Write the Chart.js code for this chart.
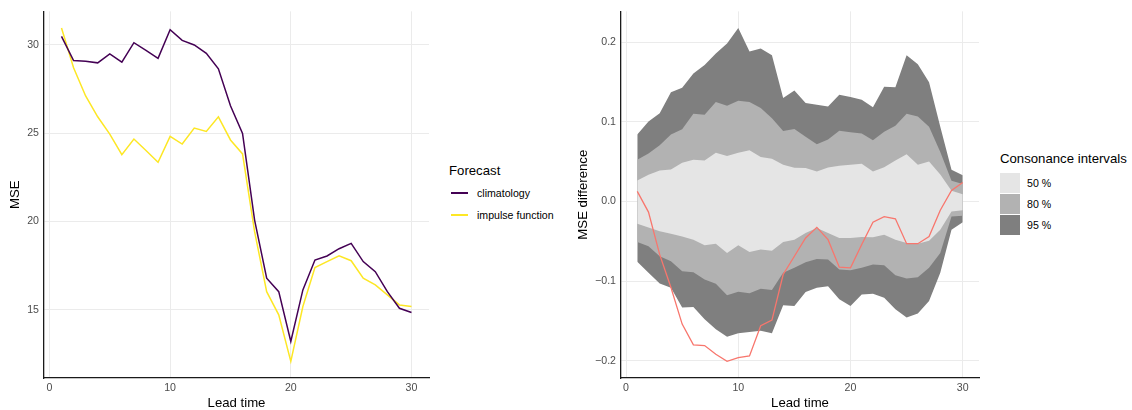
<!DOCTYPE html>
<html lang="en">
<head>
  <meta charset="UTF-8">
  <title>MSE by lead time</title>
  <style>
    body {
      margin: 0;
      width: 1132px;
      height: 410px;
      background: #fff;
      font-family: 'Liberation Sans', Arial, sans-serif;
      position: relative;
      overflow: hidden;
    }
    canvas { position: absolute; top: 0; }
    #left-chart { left: 0; }
    #right-chart { left: 560px; }
    .legend { position: absolute; color: #000; }
    .legend .title { font-size: 13.2px; position: absolute; white-space: nowrap; line-height: 1; }
    .legend .item { position: absolute; font-size: 10.6px; white-space: nowrap; line-height: 1; }
    .key-line { position: absolute; height: 1.5px; width: 17px; }
    .key-box { position: absolute; width: 20px; height: 20px; }
  </style>
</head>
<body>
  <canvas id="left-chart" width="440" height="410"></canvas>
  <canvas id="right-chart" width="430" height="410"></canvas>
  <div class="legend" id="left-legend"></div>
  <div class="legend" id="right-legend"></div>

  <script src="https://cdn.jsdelivr.net/npm/chart.js"></script>
  <script>
    // lead times 1..30
    const leadTime = [1, 2, 3, 4, 5, 6, 7, 8, 9, 10, 11, 12, 13, 14, 15,
                      16, 17, 18, 19, 20, 21, 22, 23, 24, 25, 26, 27, 28, 29, 30];

    // left panel: MSE per forecast
    const forecastNames = ['climatology', 'impulse function'];
    const forecastColors = ['#440154', '#FDE725'];
    const mseClimatology = [30.47, 29.10, 29.06, 28.97, 29.48, 29.01, 30.11, 29.68, 29.23, 30.84,
                            30.24, 29.98, 29.51, 28.63, 26.54, 24.98, 20.08, 16.79, 16.03, 13.21,
                            16.13, 17.82, 18.05, 18.46, 18.76, 17.73, 17.16, 16.03, 15.09, 14.85];
    const mseImpulse = [30.94, 28.69, 27.10, 25.92, 24.94, 23.78, 24.66, 24.01, 23.35, 24.81,
                        24.38, 25.28, 25.09, 25.92, 24.61, 23.82, 19.42, 16.03, 14.72, 12.09,
                        15.19, 17.39, 17.73, 18.06, 17.78, 16.79, 16.41, 15.85, 15.28, 15.19];

    // right panel: MSE difference and its consonance intervals
    const mseDiff = [0.0127, -0.0133, -0.0667, -0.108, -0.154, -0.180, -0.181, -0.192, -0.2008, -0.196,
                     -0.194, -0.156, -0.149, -0.0917, -0.0688, -0.0458, -0.0325, -0.0479, -0.0825, -0.0833,
                     -0.054, -0.026, -0.019, -0.0217, -0.053, -0.053, -0.044, -0.011, 0.014, 0.024];
    const upper95 = [0.0843, 0.1004, 0.111, 0.1373, 0.1428, 0.161, 0.1716, 0.186, 0.1987, 0.218,
                     0.1886, 0.1924, 0.1839, 0.1301, 0.1394, 0.1237, 0.1216, 0.1195, 0.1343, 0.1314,
                     0.128, 0.1186, 0.1441, 0.1436, 0.1839, 0.1725, 0.15, 0.0941, 0.040, 0.033];
    const lower95 = [-0.0758, -0.0896, -0.1029, -0.1083, -0.1333, -0.1325, -0.1479, -0.1604, -0.17, -0.1654,
                     -0.1638, -0.1625, -0.1654, -0.1304, -0.1313, -0.1138, -0.1083, -0.1063, -0.1229, -0.1313,
                     -0.1167, -0.1158, -0.1208, -0.1354, -0.1458, -0.1408, -0.125, -0.0896, -0.0354, -0.026];
    const upper80 = [0.0525, 0.0602, 0.0708, 0.0843, 0.0907, 0.1102, 0.1089, 0.125, 0.1203, 0.1267,
                     0.125, 0.1174, 0.1047, 0.0886, 0.0911, 0.0814, 0.072, 0.078, 0.089, 0.0869,
                     0.0856, 0.0771, 0.0877, 0.0953, 0.1102, 0.1068, 0.0941, 0.0623, 0.026, 0.022];
    const lower80 = [-0.0508, -0.0563, -0.0688, -0.075, -0.0875, -0.0888, -0.0979, -0.1033, -0.1179, -0.1133,
                     -0.1154, -0.1096, -0.1113, -0.0896, -0.0833, -0.0763, -0.0721, -0.0729, -0.0854, -0.0863,
                     -0.0833, -0.0792, -0.08, -0.0925, -0.0967, -0.095, -0.0833, -0.0646, -0.0188, -0.018];
    const upper50 = [0.0263, 0.0335, 0.039, 0.0403, 0.0487, 0.0525, 0.0517, 0.0614, 0.0572, 0.0614,
                     0.0644, 0.0559, 0.0538, 0.0462, 0.0424, 0.042, 0.0377, 0.0428, 0.0449, 0.0462,
                     0.0475, 0.0377, 0.0432, 0.0517, 0.0593, 0.0462, 0.0504, 0.0339, 0.0136, 0.009];
    const lower50 = [-0.0279, -0.0325, -0.0375, -0.0404, -0.0438, -0.0479, -0.055, -0.0529, -0.0646, -0.055,
                     -0.0633, -0.0604, -0.0617, -0.0508, -0.0479, -0.0396, -0.0333, -0.0396, -0.0458, -0.0458,
                     -0.0446, -0.045, -0.0417, -0.0479, -0.0521, -0.0529, -0.0492, -0.0354, -0.0125, -0.011];
    const intervalNames = ['50 %', '80 %', '95 %'];
    const intervalColors = ['#E5E5E5', '#B2B2B2', '#7F7F7F'];
    const diffColor = '#F8766D';

    // tick labels
    const xTicks = [0, 10, 20, 30];
    const yTicksLeft = [15, 20, 25, 30];
    const yTicksRight = [-0.2, -0.1, 0, 0.1, 0.2];
    const yTickLabelsRight = ['\u22120.2', '\u22120.1', '0.0', '0.1', '0.2'];

    const FONT = "'Liberation Sans', Arial, sans-serif";

    function pts(values) {
      return leadTime.map((t, i) => ({ x: t, y: values[i] }));
    }

    // ggplot-style 5% padding around the data range
    function expand(arrays) {
      const all = [].concat(...arrays);
      const lo = Math.min(...all), hi = Math.max(...all);
      const pad = (hi - lo) * 0.05;
      return { min: lo - pad, max: hi + pad };
    }

    const xRange = expand([leadTime]);

    function axes(yRange, yTicks, yLabel, yWidth, yTitlePad, yFmt) {
      return {
        x: {
          type: 'linear',
          min: xRange.min,
          max: xRange.max,
          afterBuildTicks: s => { s.ticks = xTicks.map(v => ({ value: v })); },
          afterFit: s => { s.height = 32; },
          grid: { color: '#EBEBEB', lineWidth: 1, drawTicks: false },
          border: { display: true, color: '#1a1a1a', width: 1.3 },
          ticks: { color: '#4D4D4D', font: { family: FONT, size: 10.6 }, padding: 4, maxRotation: 0 },
          title: { display: true, text: 'Lead time', color: '#000',
                   font: { family: FONT, size: 13.2, lineHeight: 1 }, padding: { top: 0, bottom: 0 } }
        },
        y: {
          type: 'linear',
          min: yRange.min,
          max: yRange.max,
          afterBuildTicks: s => { s.ticks = yTicks.map(v => ({ value: v })); },
          afterFit: s => { s.width = yWidth; },
          grid: { color: '#EBEBEB', lineWidth: 1, drawTicks: false },
          border: { display: true, color: '#1a1a1a', width: 1.3 },
          ticks: { color: '#4D4D4D', font: { family: FONT, size: 10.6 }, padding: 5, callback: yFmt },
          title: { display: true, text: yLabel, color: '#000',
                   font: { family: FONT, size: 13.2 }, padding: { top: yTitlePad, bottom: 0 } }
        }
      };
    }

    // left: MSE lines
    new Chart(document.getElementById('left-chart'), {
      type: 'line',
      data: {
        datasets: [
          { label: forecastNames[0], data: pts(mseClimatology), borderColor: forecastColors[0] },
          { label: forecastNames[1], data: pts(mseImpulse), borderColor: forecastColors[1] }
        ]
      },
      options: {
        responsive: false,
        animation: false,
        layout: { padding: { top: 10, right: 11, left: 0, bottom: 0 } },
        elements: { line: { borderWidth: 1.5, tension: 0, fill: false }, point: { radius: 0 } },
        plugins: { legend: { display: false }, tooltip: { enabled: false } },
        scales: axes(expand([mseClimatology, mseImpulse]), yTicksLeft, 'MSE', 44, 7, v => String(v))
      }
    });

    // right: consonance bands + difference line (first dataset is drawn on top)
    const clear = 'rgba(0,0,0,0)';
    new Chart(document.getElementById('right-chart'), {
      type: 'line',
      data: {
        datasets: [
          { label: 'difference', data: pts(mseDiff), borderColor: diffColor, borderWidth: 1.3 },
          { data: pts(lower50), borderColor: clear, borderWidth: 0 },
          { data: pts(upper50), borderColor: clear, borderWidth: 0, fill: 1, backgroundColor: intervalColors[0] },
          { data: pts(lower80), borderColor: clear, borderWidth: 0 },
          { data: pts(upper80), borderColor: clear, borderWidth: 0, fill: 3, backgroundColor: intervalColors[1] },
          { data: pts(lower95), borderColor: clear, borderWidth: 0 },
          { data: pts(upper95), borderColor: clear, borderWidth: 0, fill: 5, backgroundColor: intervalColors[2] }
        ]
      },
      options: {
        responsive: false,
        animation: false,
        layout: { padding: { top: 10, right: 11, left: 0, bottom: 0 } },
        elements: { line: { tension: 0, fill: false }, point: { radius: 0 } },
        plugins: { legend: { display: false }, tooltip: { enabled: false }, filler: { propagate: false } },
        scales: axes(expand([upper95, lower95, mseDiff]), yTicksRight, 'MSE difference', 61, 15,
                     v => yTickLabelsRight[yTicksRight.indexOf(v)] ?? '')
      }
    });

    // legends
    const leftLegend = document.getElementById('left-legend');
    leftLegend.innerHTML = '<div class="title" style="left:449px;top:164px">Forecast</div>' +
      forecastNames.map((name, i) =>
        `<div class="key-line" style="left:451px;top:${192 + i * 22}px;background:${forecastColors[i]}"></div>` +
        `<div class="item" style="left:477px;top:${188 + i * 22}px">${name}</div>`).join('');

    const rightLegend = document.getElementById('right-legend');
    rightLegend.innerHTML = '<div class="title" style="left:1000px;top:152px">Consonance intervals</div>' +
      intervalNames.map((name, i) =>
        `<div class="key-box" style="left:1000px;top:${173 + i * 21}px;background:${intervalColors[i]}"></div>` +
        `<div class="item" style="left:1027px;top:${178 + i * 21}px">${name}</div>`).join('');
  </script>
</body>
</html>
